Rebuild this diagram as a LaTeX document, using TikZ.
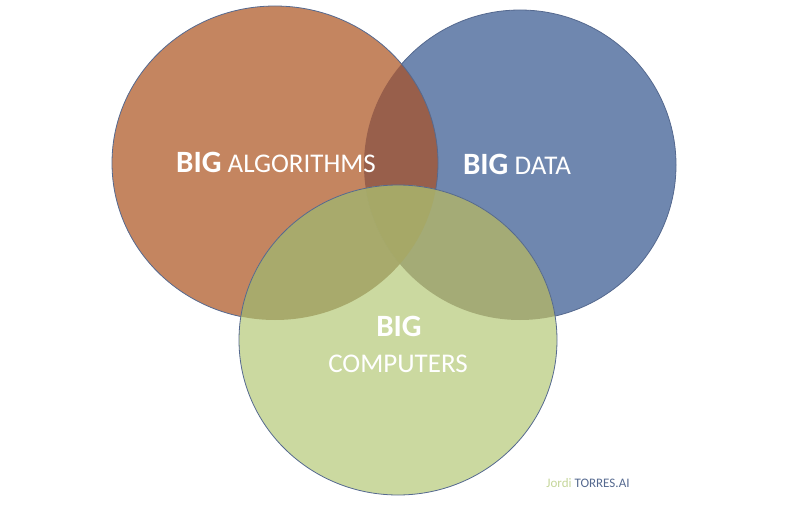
\documentclass[tikz,border=0pt]{standalone}
\usepackage{fontspec}
\setmainfont{Carlito}
\usetikzlibrary{calc}
\definecolor{algofill}{HTML}{C48560}
\definecolor{datafill}{HTML}{6F87AF}
\definecolor{compfill}{HTML}{CBD9A0}
\definecolor{algodata}{HTML}{985F4B}
\definecolor{algocomp}{HTML}{A8AA6C}
\definecolor{datacomp}{HTML}{A4AB76}
\definecolor{allthree}{HTML}{A6A867}
\definecolor{rimcol}{HTML}{55698F}
\definecolor{jordicol}{HTML}{C5D69A}
\def\bigword{{\fontsize{31}{31}\selectfont\bfseries BIG}}
\tikzset{venntext/.style={anchor=base, text=white, inner sep=0, font=\fontsize{27}{27}\selectfont}}

\begin{document}
\begin{tikzpicture}[x=1pt,y=-1pt]
			%%%%% START %%%%%
			\useasboundingbox (0,0) rectangle (800,505);
			
			\def\algocirc{(275,163) ellipse [x radius=163, y radius=157]}
			\def\datacirc{(520,165) ellipse [x radius=156, y radius=155]}
			\def\compcirc{(398,340) ellipse [x radius=159, y radius=155]}
			
			% data circle
			\fill[datafill] \datacirc;
			\draw[rimcol, line width=0.8pt] \datacirc;
			
			% algorithms circle
			\fill[algofill] \algocirc;
			\begin{scope}
				\clip \algocirc;
				\fill[algodata] \datacirc;
			\end{scope}
			\draw[rimcol, line width=0.8pt] \algocirc;
			
			% computers circle
			\fill[compfill] \compcirc;
			\begin{scope}
				\clip \compcirc;
				\fill[algocomp] \algocirc;
				\fill[datacomp] \datacirc;
				\clip \algocirc;
				\fill[allthree] \datacirc;
			\end{scope}
			\draw[rimcol, line width=0.8pt] \compcirc;
			
			% labels
			\node[venntext] (algo) at (276,173) {\bigword\ ALGORITHMS};
			\node[venntext] (data) at (517,175) {\bigword\ DATA};
			\node[venntext] (compbig) at (399,336) {\bigword};
			\node[venntext] (comp) at (398,372) {COMPUTERS};
			
			\node[anchor=base, inner sep=0, font=\fontsize{13}{13}\selectfont] (sign) at (588,487) {\textcolor{jordicol}{Jordi} \textcolor{rimcol}{TORRES.AI}};
			
			%%%%% END %%%%%
		\end{tikzpicture}
\end{document}
